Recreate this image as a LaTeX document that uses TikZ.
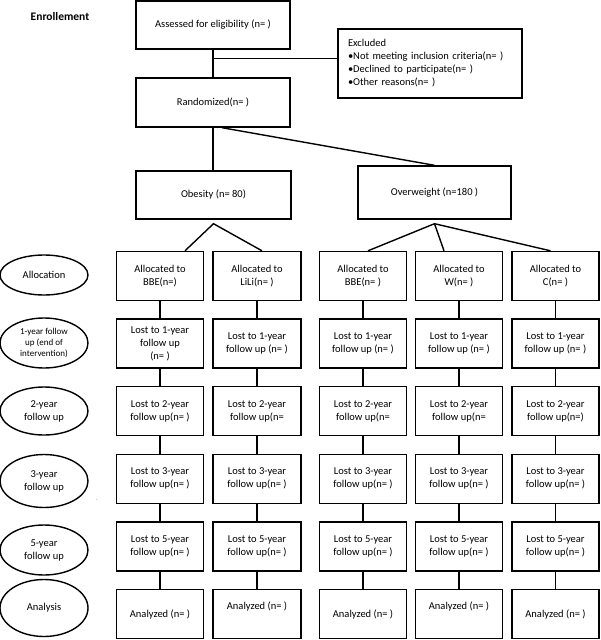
\documentclass[tikz,border=0pt]{standalone}
\usepackage{fontspec}
\setmainfont{Carlito}
\usetikzlibrary{positioning, shapes.geometric}

\tikzset{
  box/.style={draw, line width=1.4pt, minimum width=87pt, minimum height=49pt, align=center, inner sep=2pt},
  stage/.style={draw, ellipse, line width=1.4pt, minimum width=88pt, inner sep=0pt, align=center},
  link/.style={line width=1.4pt},
}

\begin{document}
\begin{tikzpicture}[x=1pt, y=-1pt, node distance=67.6pt, on grid, font=\fontsize{10.5}{13}\selectfont]
\useasboundingbox (0,0) rectangle (600,640);

% enrolment
\node[font=\fontsize{11.5}{14}\selectfont\bfseries] (enrol) at (60,17) {Enrollement};
\node[box, minimum width=154pt, minimum height=48pt] (assess) at (213,25) {Assessed for eligibility (n= )};
\node[box, minimum width=154pt] (rand) at (213,102.5) {Randomized(n= )};
\node[box, align=left, text width=164pt, inner sep=10pt, minimum height=69pt] (excl) at (430,63.5)
  {Excluded\\ •Not meeting inclusion criteria(n= )\\ •Declined to participate(n= )\\ •Other reasons(n= )};
\node[box, minimum width=155pt, minimum height=48pt] (obes) at (213.5,195) {Obesity (n= 80)};
\node[box, minimum width=153pt, minimum height=53pt] (over) at (434.5,192.5) {Overweight (n=180 )};

% allocation
\node[box] (alloc1) at (160,276) {Allocated to\\BBE(n=)};
\node[box, minimum width=88pt] (alloc2) at (257,276) {Allocated to\\LiLi(n= )};
\node[box] (alloc3) at (363,276) {Allocated to\\BBE(n= )};
\node[box] (alloc4) at (459,276) {Allocated to\\W(n= )};
\node[box] (alloc5) at (555.5,276) {Allocated to\\C(n= )};

% follow up
\node[box] (one1) [below=of alloc1] {Lost to 1-year\\follow up\\(n= )};
\node[box, minimum width=88pt] (one2) [below=of alloc2] {Lost to 1-year\\follow up (n= )};
\node[box] (one3) [below=of alloc3] {Lost to 1-year\\follow up (n= )};
\node[box] (one4) [below=of alloc4] {Lost to 1-year\\follow up (n= )};
\node[box] (one5) [below=of alloc5] {Lost to 1-year\\follow up (n= )};

\node[box] (two1) [below=of one1] {Lost to 2-year\\follow up(n= )};
\node[box, minimum width=88pt] (two2) [below=of one2] {Lost to 2-year\\follow up(n=};
\node[box] (two3) [below=of one3] {Lost to 2-year\\follow up(n=};
\node[box] (two4) [below=of one4] {Lost to 2-year\\follow up(n=};
\node[box] (two5) [below=of one5] {Lost to 2-year\\follow up(n=)};

\node[box] (three1) [below=of two1] {Lost to 3-year\\follow up(n= )};
\node[box, minimum width=88pt] (three2) [below=of two2] {Lost to 3-year\\follow up(n= )};
\node[box] (three3) [below=of two3] {Lost to 3-year\\follow up(n= )};
\node[box] (three4) [below=of two4] {Lost to 3-year\\follow up(n= )};
\node[box] (three5) [below=of two5] {Lost to 3-year\\follow up(n= )};

\node[box] (five1) [below=of three1] {Lost to 5-year\\follow up(n= )};
\node[box, minimum width=88pt] (five2) [below=of three2] {Lost to 5-year\\follow up(n= )};
\node[box] (five3) [below=of three3] {Lost to 5-year\\follow up(n= )};
\node[box] (five4) [below=of three4] {Lost to 5-year\\follow up(n= )};
\node[box] (five5) [below=of three5] {Lost to 5-year\\follow up(n= )};

\node[box] (ana1) [below=of five1] {Analyzed (n= )};
\node[box, minimum width=88pt] (ana2) [below=of five2] {Analyzed (n= )\\[4pt]};
\node[box] (ana3) [below=of five3] {Analyzed (n= )};
\node[box] (ana4) [below=of five4] {Analyzed (n= )\\[4pt]};
\node[box] (ana5) [below=of five5] {Analyzed (n= )};

% stages
\node[stage, minimum height=40pt] (sAlloc) at (44,275) {Allocation};
\node[stage, minimum height=50pt, font=\fontsize{9}{11}\selectfont] (sOne) at (44,343) {1-year follow\\up (end of\\intervention)};
\node[stage, minimum height=48pt] (sTwo) at (44,411) {2-year\\follow up};
\node[stage, minimum height=53pt] (sThree) at (44,481) {3-year\\follow up};
\node[stage, minimum height=50pt] (sFive) at (44,550) {5-year\\follow up};
\node[stage, minimum height=57pt] (sAna) at (44,608) {Analysis};
\node[font=\tiny] (dot) at (97,500) {.};

% connectors
\coordinate (split) at ([yshift=-9pt]assess.south);
\coordinate (obesfork) at ([yshift=-4pt]obes.south);
\coordinate (overfork) at ([yshift=-4pt]over.south);
\draw[link] (assess) -- (rand);
\draw[link] (split) -- (split -| excl.west);
\draw[link] (rand.south) -- (rand.south |- obes.north);
\draw[link] ([xshift=9pt]rand.south) -- (over.north);
\draw[link] ([xshift=25pt]alloc1.north) -- (obesfork) -- ([xshift=5pt]alloc2.north);
\draw[link] ([xshift=5pt]alloc3.north) -- (overfork) -- ([xshift=-5pt]alloc5.north);
\draw[link] (overfork) -- ([xshift=-15pt]alloc4.north);

\path[link]
  (alloc1) edge (one1) (one1) edge (two1) (two1) edge (three1) (three1) edge (five1) (five1) edge (ana1)
  (alloc2) edge (one2) (one2) edge (two2) (two2) edge (three2) (three2) edge (five2) (five2) edge (ana2)
  (alloc3) edge (one3) (one3) edge (two3) (two3) edge (three3) (three3) edge (five3) (five3) edge (ana3)
  (alloc4) edge (one4) (one4) edge (two4) (two4) edge (three4) (three4) edge (five4) (five4) edge (ana4)
  (alloc5) edge (one5) (one5) edge (two5) (two5) edge (three5) (three5) edge (five5) (five5) edge (ana5);
\end{tikzpicture}
\end{document}
